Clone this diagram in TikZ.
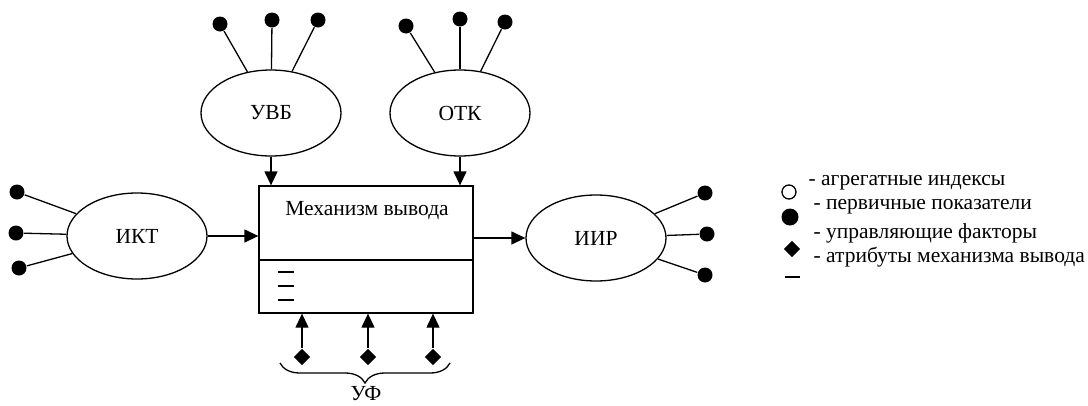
\documentclass[tikz,border=0pt]{standalone}
\usepackage{fontspec}
\setmainfont{Liberation Serif}
\usepackage{tikz}
\usetikzlibrary{shapes.geometric, arrows.meta, positioning, decorations.pathreplacing}

\tikzset{
    blob/.style={ellipse, draw, line width=1.3pt, minimum width=140pt, minimum height=86pt, inner sep=0pt},
    dot/.style={circle, fill=black, inner sep=0pt, minimum size=15pt},
    ring/.style={circle, draw, line width=1.3pt, inner sep=0pt, minimum size=14pt},
    factor/.style={diamond, fill=black, inner sep=0pt, minimum size=17pt},
    arr/.style={line width=1.3pt, -{Triangle[length=14pt,width=13pt]}},
    legtext/.style={anchor=west, inner sep=0pt}
}

\begin{document}
\begin{tikzpicture}[x=1pt, y=-1pt, line width=1.3pt, font=\fontsize{21.5}{24}\selectfont]
\useasboundingbox (0,0) rectangle (1088,405);

% Inference mechanism block
\node[draw, line width=1.3pt, minimum width=214pt, minimum height=127pt, inner sep=0pt] (box) at (366,249.5) {};
\node (title) at (367,211) {Механизм вывода};
\coordinate (divl) at (259,260);
\draw (divl) -- (divl -| box.east);

% Attribute dashes
\foreach \y in {272,286,300}
{
    \draw[line width=2.2pt] (278,\y) -- (294,\y);
}

% Ellipses
\node[blob] (uvb) at (271,113) {УВБ};
\node[blob] (otk) at (460,113) {ОТК};
\node[blob] (ikt) at (137,236) {ИКТ};
\node[blob] (iir) at (596,238) {ИИР};

% Primary indicators of УВБ
\foreach \i/\x/\y in {1/220/24, 2/272/20, 3/318/20}
{
    \node[dot] (uvb\i) at (\x,\y) {};
    \draw (uvb\i) -- (uvb);
}

% Primary indicators of ОТК
\foreach \i/\x/\y in {1/406/26, 2/460/19, 3/505/22}
{
    \node[dot] (otk\i) at (\x,\y) {};
    \draw (otk\i) -- (otk);
}

% Primary indicators of ИКТ
\foreach \i/\x/\y in {1/17/192, 2/16/233, 3/19/268}
{
    \node[dot] (ikt\i) at (\x,\y) {};
    \draw (ikt\i) -- (ikt);
}

% Primary indicators of ИИР
\foreach \i/\x/\y in {1/705/193, 2/707/234, 3/705/275}
{
    \node[dot] (iir\i) at (\x,\y) {};
    \draw (iir\i) -- (iir);
}

% Inputs and output of the block
\draw[arr] (uvb.south) -- (uvb.south |- box.north);
\draw[arr] (otk.south) -- (otk.south |- box.north);
\draw[arr] (ikt.east) -- (ikt.east -| box.west);
\draw[arr] (iir.west -| box.east) -- (iir.west);

% Control factors
\foreach \i/\x in {1/302, 2/368, 3/433}
{
    \node[factor] (uf\i) at (\x,357) {};
    \draw[arr] (uf\i) -- (uf\i |- box.south);
}

% Brace under the control factors
\coordinate (bl) at (280,363);
\coordinate (br) at (450,363);
\draw[line width=1.3pt, decorate, decoration={brace, amplitude=20pt, mirror}] (bl) -- (br);
\node (uflabel) at (366,394) {УФ};

% Legend
\node[ring] (lg1) at (789,192) {};
\node[dot, minimum size=17pt] (lg2) at (790,217) {};
\node[factor, minimum size=17pt] (lg3) at (792,249) {};
\coordinate (lg4) at (785,277);
\draw[line width=2.2pt] (lg4) -- ++(15,0);
\node[legtext] (lt1) at (808,183) {- агрегатные индексы};
\node[legtext] (lt2) at (813,207) {- первичные показатели};
\node[legtext] (lt3) at (813,233) {- управляющие факторы};
\node[legtext] (lt4) at (813,257) {- атрибуты механизма вывода};

\end{tikzpicture}
\end{document}
